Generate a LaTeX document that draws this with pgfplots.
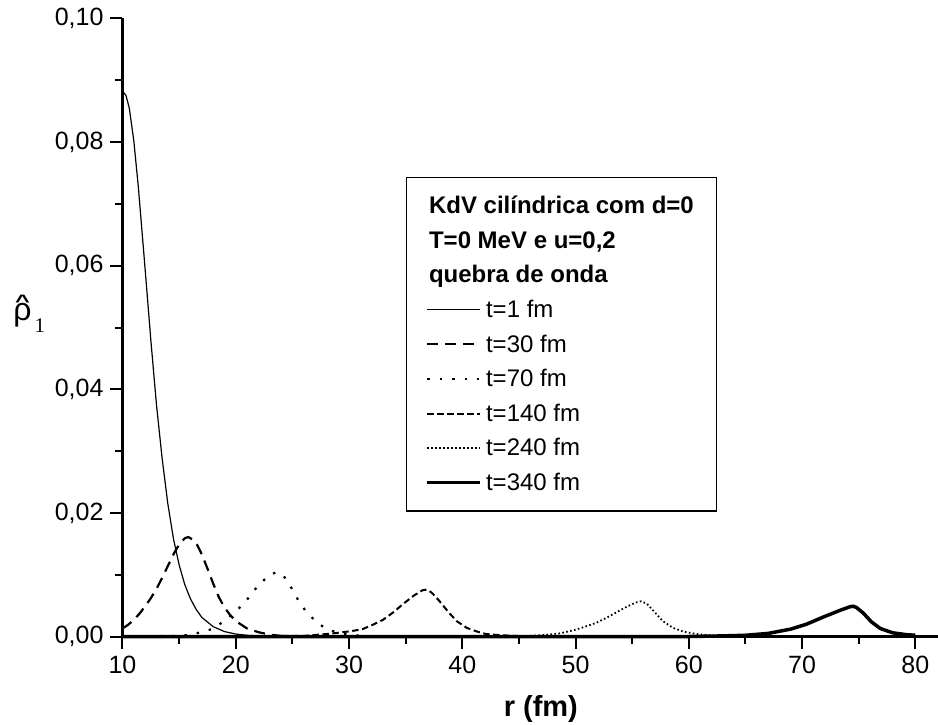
\documentclass[border=0pt]{standalone}
\usepackage{pgfplots}
\pgfplotsset{compat=1.18}
\usepackage{fontspec}
\setmainfont{Liberation Sans}
\newfontfamily\serifone{Liberation Serif}
\newsavebox\rhobox
\newcommand\rhohat{\sbox\rhobox{ρ}\rlap{\makebox[\wd\rhobox][c]{\raisebox{6.6pt}{\scalebox{1.05}[0.75]{\fontsize{12}{12}\selectfont\bfseries\textasciicircum}}}}\usebox\rhobox}

\begin{document}
\begin{tikzpicture}
\begin{axis}[
  name=ax,
  scale only axis,
  width=407.75pt, height=309pt,
  xmin=10, xmax=82, ymin=0, ymax=0.1,
  axis lines=left,
  axis line style={-, line width=1.3pt},
  axis on top,
  clip=false,
  tick align=outside,
  major tick length=6pt,
  minor tick length=3.5pt,
  every tick/.style={black, line width=1pt},
  xtick={10,20,...,80},
  ytick={0,0.02,0.04,0.06,0.08,0.10},
  minor x tick num=1,
  minor y tick num=1,
  tick label style={font=\fontsize{12.5}{13}\selectfont},
  /pgf/number format/assume math mode=true,
  yticklabel style={/pgf/number format/.cd, fixed, fixed zerofill, precision=2, use comma},
  scaled y ticks=false,
  xlabel={\bfseries r (fm)},
  every axis x label/.style={at={(axis description cs:0.513,0)}, anchor=base, yshift=-39.75pt, font=\fontsize{14.5}{15}\selectfont},
  ylabel={\fontsize{16}{16}\selectfont\rhohat\hspace{1.5pt}\raisebox{-5.75pt}{\serifone\fontsize{10.4}{11}\selectfont 1}},
  every axis y label/.style={at={(axis description cs:0,0.522)}, anchor=west, xshift=-54.75pt, inner sep=0pt},
  legend style={
    at={(axis description cs:0.3476,0.7435)}, anchor=north west,
    draw=black, line width=0.6pt,
    inner xsep=9.5pt, inner ysep=5.5pt,
    font=\fontsize{12}{14}\selectfont,
    row sep=0pt,
    nodes={inner xsep=2pt, inner ysep=0pt, text height=12.5pt, text depth=4.8pt},
  },
  legend cell align=left,
  legend image code/.code={\draw[#1] (0pt,0pt) -- (26.5pt,0pt);},
]

\addlegendimage{legend image code/.code={}}
\addlegendentry{\hspace{-28.5pt}\bfseries KdV cilíndrica com d=0}
\addlegendimage{legend image code/.code={}}
\addlegendentry{\hspace{-28.5pt}\bfseries T=0 MeV e u=0,2}
\addlegendimage{legend image code/.code={}}
\addlegendentry{\hspace{-28.5pt}\bfseries quebra de onda}

% t = 1 fm
\addplot[black, line width=0.6pt] coordinates {
(10,0.0877)(10.1,0.0880)(10.3,0.0876)(10.6,0.0855)(11.0,0.0802)(11.4,0.0727)
(12.0,0.0594)(12.5,0.0480)(13.0,0.0375)(13.5,0.0288)(14.0,0.0215)(14.5,0.0158)
(15.0,0.0116)(15.5,0.0084)(16.0,0.0061)(16.5,0.0044)(17.0,0.0031)(18.0,0.0016)
(19.0,0.0008)(20.0,0.0004)(21,0.0002)(22,0.0001)(24,0)(80,0)};
\addlegendentry{t=1 fm}

% t = 30 fm
\addplot[black, line width=1.1pt, dash pattern=on 5.5pt off 3.5pt] coordinates {
(10,0.0013)(10.5,0.0019)(11,0.0027)(11.5,0.0037)(12,0.0049)(12.5,0.0062)
(13,0.0077)(13.5,0.0095)(14,0.0114)(14.5,0.0133)(15,0.0149)(15.5,0.0159)
(15.8,0.0161)(16.2,0.0157)(16.6,0.0148)(17,0.0133)(17.5,0.0110)(18,0.0086)
(18.5,0.0064)(19,0.0047)(19.5,0.0035)(20,0.0025)(21,0.0013)(22,0.0007)
(23,0.0003)(24,0.0001)(26,0)(80,0)};
\addlegendentry{t=30 fm}

% t = 70 fm
\addplot[black, line width=1.1pt, dash pattern=on 1.2pt off 5pt] coordinates {
(10,0)(15,0.0001)(16,0.0003)(16.7,0.0006)(17.9,0.0012)(18.9,0.0024)(20.1,0.0042)
(21.1,0.0062)(22.0,0.0083)(23.0,0.0100)(23.6,0.0104)(24.2,0.0099)(24.9,0.0079)
(25.6,0.0056)(26.3,0.0038)(27.4,0.0019)(28.5,0.0009)(29.7,0.0004)(31,0.0001)
(33,0)(80,0)};
\addlegendentry{t=70 fm}

% t = 140 fm
\addplot[black, line width=1pt, dash pattern=on 3.2pt off 1.8pt] coordinates {
(10,0)(26,0.0001)(28,0.0004)(29,0.0006)(30.3,0.0009)(31.2,0.0012)(32.1,0.0019)
(33.0,0.0027)(33.9,0.0039)(34.8,0.0053)(35.7,0.0066)(36.5,0.0075)(36.9,0.0076)
(37.3,0.0071)(38.0,0.0057)(38.8,0.0039)(39.5,0.0025)(40.4,0.0014)(41.3,0.0008)
(42.1,0.0004)(43.5,0.0002)(46,0)(80,0)};
\addlegendentry{t=140 fm}

% t = 240 fm
\addplot[black, line width=0.9pt, dash pattern=on 0.8pt off 1.2pt] coordinates {
(10,0)(44,0)(46,0.0001)(47.5,0.0003)(48.6,0.0005)(49.8,0.0010)(50.7,0.0015)
(51.8,0.0022)(52.7,0.0030)(53.6,0.0039)(54.5,0.0048)(55.3,0.0055)(55.8,0.0057)
(56.3,0.0053)(57.0,0.0039)(57.7,0.0025)(58.6,0.0014)(59.5,0.0008)(60.7,0.0004)
(61.8,0.0002)(63.5,0.0001)(66,0)(80,0)};
\addlegendentry{t=240 fm}

% t = 340 fm
\addplot[black, line width=1.75pt] coordinates {
(10,0)(60,0)(63,0.0001)(65,0.0002)(67,0.0005)(69,0.0012)(70.4,0.0020)
(71.8,0.0031)(73.3,0.0042)(74.2,0.0048)(74.5,0.0049)(74.8,0.0047)(75.4,0.0038)
(76.1,0.0024)(76.9,0.0013)(78,0.0006)(79.2,0.0003)(80,0.0002)};
\addlegendentry{t=340 fm}

\end{axis}
\pgfresetboundingbox
\path[use as bounding box] ([xshift=-61.25pt,yshift=-43.75pt]ax.south west) rectangle ([yshift=9.25pt]ax.north east);
\end{tikzpicture}
\end{document}
